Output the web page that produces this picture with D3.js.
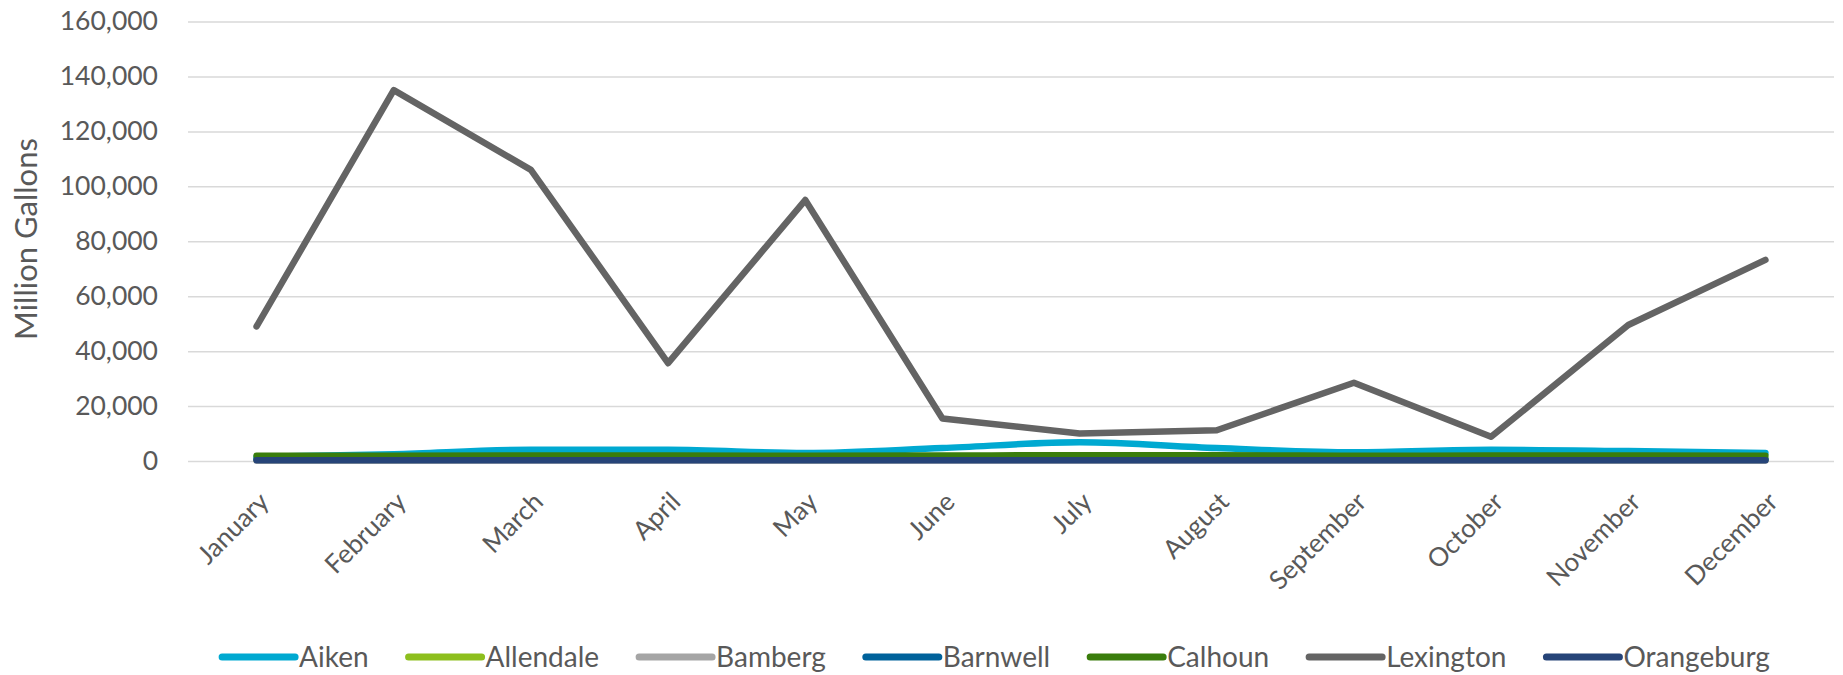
<!DOCTYPE html>
<html>
<head>
<meta charset="utf-8">
<script src="https://cdn.jsdelivr.net/npm/d3@7"></script>
<style>
  html, body { margin: 0; padding: 0; background: #ffffff; }
  svg { display: block; }
  text { font-family: Lato, "Liberation Sans", Arial, sans-serif; fill: #595959; }
</style>
</head>
<body>
<svg id="chart" width="1843" height="675"></svg>
<script>
// ---- data ----
const months = ["January","February","March","April","May","June","July","August","September","October","November","December"];
const seriesNames = ["Aiken","Allendale","Bamberg","Barnwell","Calhoun","Lexington","Orangeburg"];
const aiken      = [1500, 2500, 4100, 4100, 2900, 4700, 6800, 4700, 3200, 4100, 3600, 2900];
const allendale  = [400, 400, 450, 450, 400, 450, 500, 450, 400, 400, 400, 400];
const bamberg    = [150, 150, 150, 150, 150, 150, 150, 150, 150, 150, 150, 150];
const barnwell   = [700, 750, 800, 800, 750, 800, 850, 800, 750, 800, 750, 700];
const calhoun    = [1900, 1900, 2000, 2000, 1900, 2000, 2100, 2100, 1900, 2000, 2000, 1900];
const lexington  = [49000, 135000, 106000, 35600, 95000, 15500, 10000, 11200, 28500, 8800, 49500, 73200];
const orangeburg = [300, 300, 300, 300, 300, 300, 300, 300, 300, 300, 300, 300];
const yTicks = [0, 20000, 40000, 60000, 80000, 100000, 120000, 140000, 160000];
const yTitle = "Million Gallons";

const seriesValues = [aiken, allendale, bamberg, barnwell, calhoun, lexington, orangeburg];
const colors = ["#00A9D1", "#8DBF1E", "#A5A5A5", "#00629B", "#3A7D0C", "#646464", "#264478"];
const smooth = [true, true, true, true, true, false, true];

// ---- layout ----
const svg = d3.select("#chart");
const margin = {left: 188, top: 21.5, right: 9};
const plotW = 1843 - margin.left - margin.right;
const plotH = 461 - margin.top;

const g = svg.append("g").attr("transform", `translate(${margin.left},${margin.top})`);

const x = d3.scalePoint().domain(months).range([0, plotW]).padding(0.5);
const y = d3.scaleLinear().domain([0, 160000]).range([plotH, 0]);

// gridlines + y axis
const yAxis = d3.axisLeft(y).tickValues(yTicks).tickFormat(d3.format(",")).tickSize(-plotW).tickPadding(30);
const ya = g.append("g").call(yAxis);
ya.select(".domain").remove();
ya.selectAll(".tick line").attr("stroke", "#D9D9D9").attr("stroke-width", 1.5);
ya.selectAll(".tick text").style("font-size", "26.5px").style("fill", "#595959")
  .style("font-family", 'Lato, "Liberation Sans", Arial, sans-serif');

// x axis labels
const xAxis = d3.axisBottom(x).tickSize(0).tickPadding(0);
const xa = g.append("g").attr("transform", `translate(0,${plotH})`).call(xAxis);
xa.select(".domain").remove();
xa.selectAll(".tick text")
  .style("font-size", "26px").style("fill", "#595959")
  .style("font-family", 'Lato, "Liberation Sans", Arial, sans-serif')
  .attr("text-anchor", "end")
  .attr("x", 0).attr("y", 0).attr("dy", "0.35em")
  .attr("transform", "translate(7,36) rotate(-45)");

// lines
seriesNames.forEach((name, i) => {
  const line = d3.line()
    .x((d, j) => x(months[j]))
    .y(d => y(d))
    .curve(smooth[i] ? d3.curveMonotoneX : d3.curveLinear);
  g.append("path")
    .datum(seriesValues[i])
    .attr("fill", "none")
    .attr("stroke", colors[i])
    .attr("stroke-width", 6.5)
    .attr("stroke-linejoin", "round")
    .attr("stroke-linecap", "round")
    .attr("d", line);
});

// y-axis title
svg.append("text")
  .attr("transform", "translate(26,239) rotate(-90)")
  .attr("text-anchor", "middle")
  .attr("dy", "0.35em")
  .style("font-size", "31px")
  .text(yTitle);

// legend
const legend = svg.append("g");
const swatchLen = 73, swGap = 4, itemGap = 40, legY = 657;
let cx = 0;
seriesNames.forEach((name, i) => {
  const it = legend.append("g");
  it.append("line").attr("x1", 0).attr("x2", swatchLen).attr("y1", 0).attr("y2", 0)
    .attr("stroke", colors[i]).attr("stroke-width", 7).attr("stroke-linecap", "round");
  const t = it.append("text").attr("x", swatchLen + swGap).attr("y", 0).attr("dy", "0.35em")
    .style("font-size", "28px").text(name);
  const w = swatchLen + swGap + t.node().getComputedTextLength();
  it.attr("transform", `translate(${cx},${legY})`);
  cx += w + itemGap;
});
const totalW = cx - itemGap;
legend.attr("transform", `translate(${996 - totalW / 2},0)`);
</script>
</body>
</html>
